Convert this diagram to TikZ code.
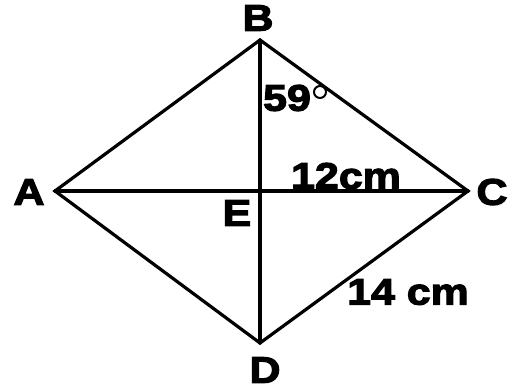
\documentclass[tikz,border=0pt]{standalone}
\usepackage{fontspec}
\setmainfont{Liberation Sans}[BoldFont={Liberation Sans Bold},BoldFeatures={FakeStretch=1.16,FakeBold=3.2}]
\begin{document}
\begin{tikzpicture}[x=1pt,y=-1pt,
  edge/.style={line width=3.2pt,line cap=round,line join=miter},
  lbl/.style={inner sep=0pt,font=\bfseries\fontsize{37}{40}\selectfont},
  deg/.style={circle,draw,line width=2pt,minimum size=12pt,inner sep=0pt}]
\useasboundingbox (0,0) rectangle (518,389);
\coordinate (A) at (55,191);
\coordinate (B) at (260,40);
\coordinate (C) at (468,191);
\coordinate (D) at (260,343);
\coordinate (E) at (260,191);
\draw[edge] (A) -- (B) -- (C) -- (D) -- cycle;
\draw[edge] (A) -- (C);
\draw[edge] (B) -- (D);
\node[lbl] (lA) at (29,192) {A};
\node[lbl] (lB) at (258,18) {B};
\node[lbl] (lC) at (492,192) {C};
\node[lbl] (lD) at (265,370) {D};
\node[lbl] (lE) at (237,213) {E};
\node[lbl] (l59) at (287,98) {59};
\node[deg] (dg) at (320,92) {};
\node[lbl] (l12) at (346,176) {12cm};
\node[lbl] (l14) at (408,292) {14 cm};
\end{tikzpicture}
\end{document}
